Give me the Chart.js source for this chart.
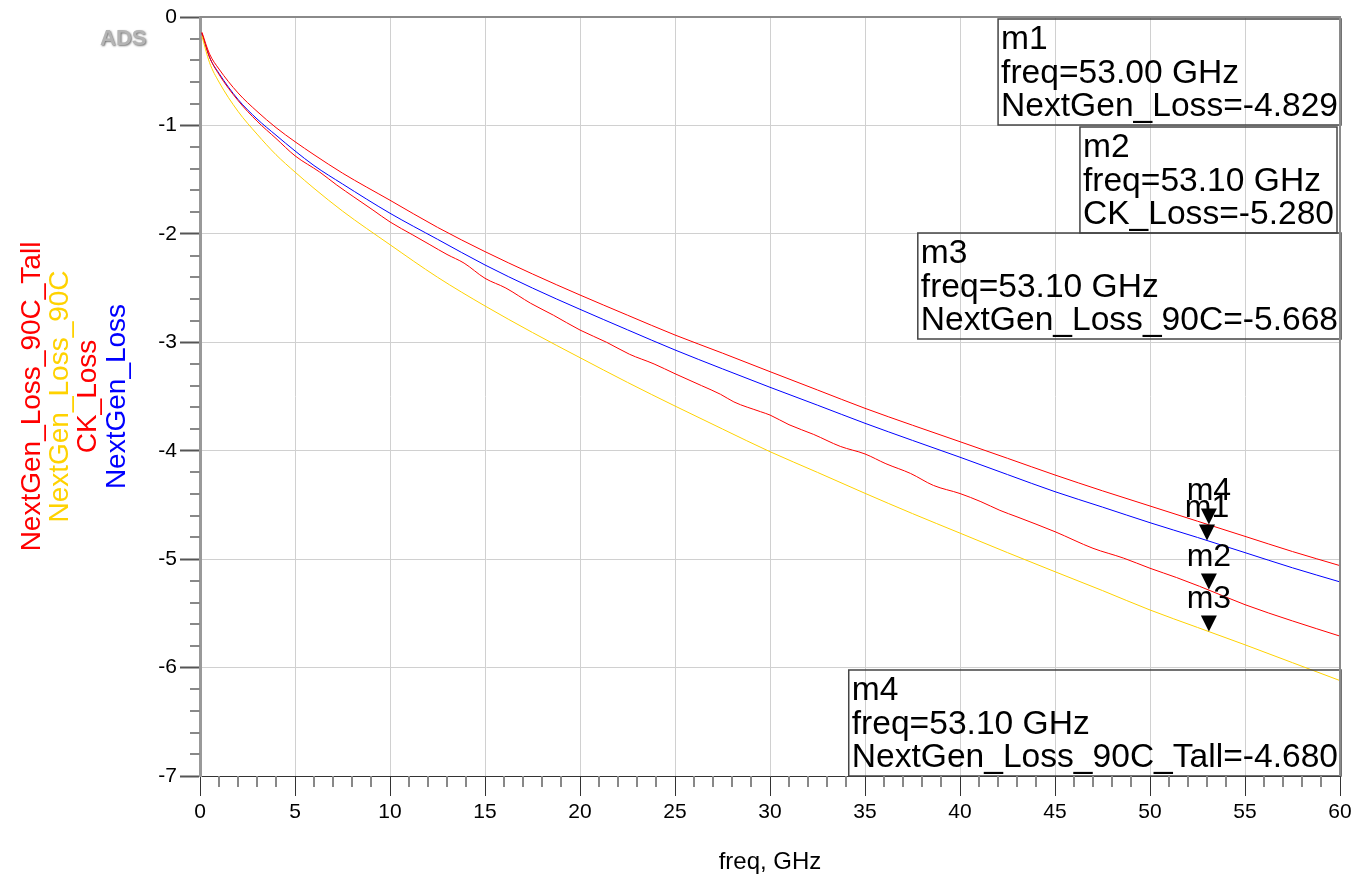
<!DOCTYPE html>
<html>
<head>
<meta charset="utf-8">
<script src="https://cdn.jsdelivr.net/npm/chart.js@4"></script>
<style>
  html, body { margin: 0; padding: 0; background: #fff; }
  #wrap { width: 1352px; height: 879px; }
</style>
</head>
<body>
<div id="wrap"><canvas id="chart" width="1352" height="879"></canvas></div>
<script>
// Data (freq in GHz, loss in dB)
const freqCommon = [0.1, 0.5, 1, 2, 3, 4, 5, 6, 7.5, 10, 12.5, 15, 17.5, 20, 22.5, 25, 27.5, 30, 32.5, 35, 37.5, 40, 42.5, 45, 47.5, 50, 52.5, 55, 57.5, 60];
const lossTall = [-0.14, -0.34, -0.48, -0.70, -0.87, -1.02, -1.15, -1.27, -1.44, -1.69, -1.94, -2.164, -2.37, -2.564, -2.75, -2.933, -3.10, -3.271, -3.44, -3.609, -3.765, -3.917, -4.07, -4.224, -4.37, -4.51, -4.65, -4.79, -4.93, -5.06];
const loss90C = [-0.175, -0.42, -0.60, -0.87, -1.08, -1.27, -1.43, -1.58, -1.79, -2.10, -2.40, -2.665, -2.91, -3.142, -3.37, -3.588, -3.80, -4.009, -4.20, -4.393, -4.58, -4.76, -4.94, -5.116, -5.29, -5.469, -5.63, -5.79, -5.955, -6.12];
const lossNextGen = [-0.15, -0.37, -0.52, -0.76, -0.94, -1.09, -1.235, -1.37, -1.54, -1.81, -2.05, -2.287, -2.50, -2.696, -2.885, -3.071, -3.245, -3.415, -3.58, -3.747, -3.905, -4.06, -4.22, -4.378, -4.52, -4.664, -4.80, -4.94, -5.08, -5.21];

// CK_Loss has small ripples, so it gets its own denser frequency list
const freqCK = [0.1, 0.5, 1, 2, 3, 4, 5, 6.3, 7.2, 8.1, 9.1, 10, 11.2, 12.1, 13.0, 13.9, 15.0, 16.1, 17.4, 18.6, 20.0, 21.4, 22.6, 23.9, 25.0, 26.4, 27.4, 28.1, 29.5, 30.0, 31.0, 32.3, 33.7, 35.0, 36.1, 37.4, 38.6, 40.0, 41.1, 42.1, 43.0, 45.0, 47.0, 48.6, 50.0, 51.4, 52.6, 55, 57.5, 60];
const lossCK = [-0.15, -0.37, -0.53, -0.77, -0.96, -1.12, -1.28, -1.43, -1.55, -1.66, -1.78, -1.89, -2.01, -2.10, -2.19, -2.27, -2.41, -2.50, -2.64, -2.75, -2.887, -3.00, -3.11, -3.20, -3.29, -3.40, -3.48, -3.55, -3.64, -3.671, -3.76, -3.85, -3.96, -4.03, -4.12, -4.21, -4.32, -4.395, -4.47, -4.55, -4.61, -4.747, -4.90, -4.99, -5.084, -5.17, -5.25, -5.42, -5.57, -5.71];

const seriesNames = ['NextGen_Loss_90C_Tall', 'NextGen_Loss_90C', 'CK_Loss', 'NextGen_Loss'];
const seriesColors = ['#ff0000', '#ffd200', '#ff0000', '#0000ff'];

// markers m1..m4
const markerNames = ['m1', 'm2', 'm3', 'm4'];
const markerSeries = ['NextGen_Loss', 'CK_Loss', 'NextGen_Loss_90C', 'NextGen_Loss_90C_Tall'];
const markerFreq = [53.00, 53.10, 53.10, 53.10];
const markerLoss = [-4.829, -5.280, -5.668, -4.680];

const xTickValues = [0, 5, 10, 15, 20, 25, 30, 35, 40, 45, 50, 55, 60];
const yTickValues = [0, -1, -2, -3, -4, -5, -6, -7];
const xMinorStep = 1;
const yMinorStep = 0.2;

const FONT = '"Liberation Sans", Arial, sans-serif';

function pts(xs, ys) {
    return xs.map((x, i) => ({ x: x, y: ys[i] }));
}

const seriesData = [pts(freqCommon, lossTall), pts(freqCommon, loss90C), pts(freqCK, lossCK), pts(freqCommon, lossNextGen)];

// Extra drawing: minor ticks, frame, ADS logo, rotated trace names, markers and marker boxes
const adsExtras = {
    id: 'adsExtras',
    afterDatasetsDraw(chart) {
        const ctx = chart.ctx;
        const xs = chart.scales.x, ys = chart.scales.y;
        const area = chart.chartArea;
        ctx.save();

        // marker triangles + names
        ctx.fillStyle = '#000';
        ctx.font = '32px ' + FONT;
        ctx.textAlign = 'center';
        ctx.textBaseline = 'alphabetic';
        markerNames.forEach((name, i) => {
            const px = xs.getPixelForValue(markerFreq[i]);
            const py = ys.getPixelForValue(markerLoss[i]);
            ctx.beginPath();
            ctx.moveTo(px, py);
            ctx.lineTo(px - 8, py - 16);
            ctx.lineTo(px + 8, py - 16);
            ctx.closePath();
            ctx.fill();
            ctx.fillText(name, px, py - 24);
        });

        // marker readout boxes
        ctx.textAlign = 'left';
        ctx.font = '33.6px ' + FONT;
        const boxH = 106;
        const boxTops = [area.top + 2, area.top + 110, area.top + 216, area.bottom - boxH];
        markerNames.forEach((name, i) => {
            const lines = [name, 'freq=' + markerFreq[i].toFixed(2) + ' GHz', markerSeries[i] + '=' + markerLoss[i].toFixed(3)];
            const w = Math.max(...lines.map(l => ctx.measureText(l).width)) + 6;
            const right = (i === 1) ? area.right - 3 : area.right + 1;
            const left = right - w;
            const top = boxTops[i];
            ctx.strokeStyle = '#444';
            ctx.lineWidth = 1.5;
            ctx.strokeRect(left, top, w, boxH);
            lines.forEach((l, k) => ctx.fillText(l, left + 3, top + 30 + k * 33.5));
        });
        ctx.restore();
    },
    afterDraw(chart) {
        const ctx = chart.ctx;
        const xs = chart.scales.x, ys = chart.scales.y;
        const area = chart.chartArea;
        ctx.save();

        // minor ticks
        ctx.strokeStyle = '#888';
        ctx.lineWidth = 2;
        ctx.beginPath();
        for (let v = xs.min + xMinorStep; v < xs.max; v += xMinorStep) {
            if (xTickValues.includes(Math.round(v))) continue;
            const px = Math.round(xs.getPixelForValue(v));
            ctx.moveTo(px, area.bottom);
            ctx.lineTo(px, area.bottom + 11);
        }
        const nMinor = Math.round((ys.max - ys.min) / yMinorStep);
        for (let k = 1; k < nMinor; k++) {
            if (k % 5 === 0) continue;
            const py = Math.round(ys.getPixelForValue(ys.min + k * yMinorStep));
            ctx.moveTo(area.left - 10, py);
            ctx.lineTo(area.left, py);
        }
        ctx.stroke();

        // frame on top and right
        ctx.strokeStyle = '#8a8a8a';
        ctx.lineWidth = 2;
        ctx.beginPath();
        ctx.moveTo(area.left, area.top);
        ctx.lineTo(area.right, area.top);
        ctx.lineTo(area.right, area.bottom);
        ctx.stroke();

        // ADS logo
        ctx.font = 'bold 22px ' + FONT;
        ctx.textAlign = 'left';
        ctx.textBaseline = 'alphabetic';
        ctx.shadowColor = 'rgba(0,0,0,0.55)';
        ctx.shadowBlur = 2;
        ctx.shadowOffsetX = 1;
        ctx.shadowOffsetY = 1;
        ctx.fillStyle = '#b4b4b4';
        ctx.fillText('ADS', area.left - 100, area.top + 28);
        ctx.shadowColor = 'transparent';

        // rotated trace names on the left
        ctx.font = '28px ' + FONT;
        ctx.textAlign = 'center';
        ctx.textBaseline = 'middle';
        const midY = (area.top + area.bottom) / 2;
        const colX = [32, 60, 88, 117];
        seriesNames.forEach((n, i) => {
            ctx.save();
            ctx.translate(colX[i], midY);
            ctx.rotate(-Math.PI / 2);
            ctx.fillStyle = seriesColors[i];
            ctx.fillText(n, 0, 0);
            ctx.restore();
        });
        ctx.restore();
    }
};

new Chart(document.getElementById('chart'), {
    type: 'scatter',
    data: {
        datasets: seriesNames.map((n, i) => ({
            label: n,
            data: seriesData[i],
            showLine: true,
            borderColor: seriesColors[i],
            borderWidth: 1,
            pointRadius: 0,
            cubicInterpolationMode: 'monotone'
        }))
    },
    options: {
        responsive: false,
        animation: false,
        layout: { padding: { top: 17, right: 12, left: 0, bottom: 0 } },
        plugins: { legend: { display: false }, tooltip: { enabled: false } },
        scales: {
            x: {
                type: 'linear',
                min: xTickValues[0],
                max: xTickValues[xTickValues.length - 1],
                afterBuildTicks(s) { s.ticks = xTickValues.map(v => ({ value: v })); },
                ticks: { autoSkip: false, color: '#000', font: { size: 21, family: FONT }, padding: 4, maxRotation: 0 },
                grid: { color: '#d0d0d0', lineWidth: 1, tickLength: 20, tickColor: '#333', tickWidth: 1 },
                border: { color: '#333', width: 1 },
                title: { display: true, text: 'freq, GHz', color: '#000', font: { size: 24, family: FONT }, padding: { top: 0, bottom: 2 } },
                afterFit(s) { s.height = 103; s.paddingLeft = 0; s.paddingRight = 0; }
            },
            y: {
                type: 'linear',
                min: yTickValues[yTickValues.length - 1],
                max: yTickValues[0],
                afterBuildTicks(s) { s.ticks = yTickValues.slice().reverse().map(v => ({ value: v })); },
                ticks: { autoSkip: false, color: '#000', font: { size: 21, family: FONT }, padding: 3 },
                grid: { color: '#d0d0d0', lineWidth: 1, tickLength: 20, tickColor: '#555', tickWidth: 2 },
                border: { color: '#999', width: 3 },
                afterFit(s) { s.width = 200; s.paddingTop = 0; s.paddingBottom = 0; }
            }
        }
    },
    plugins: [adsExtras]
});
</script>
</body>
</html>
